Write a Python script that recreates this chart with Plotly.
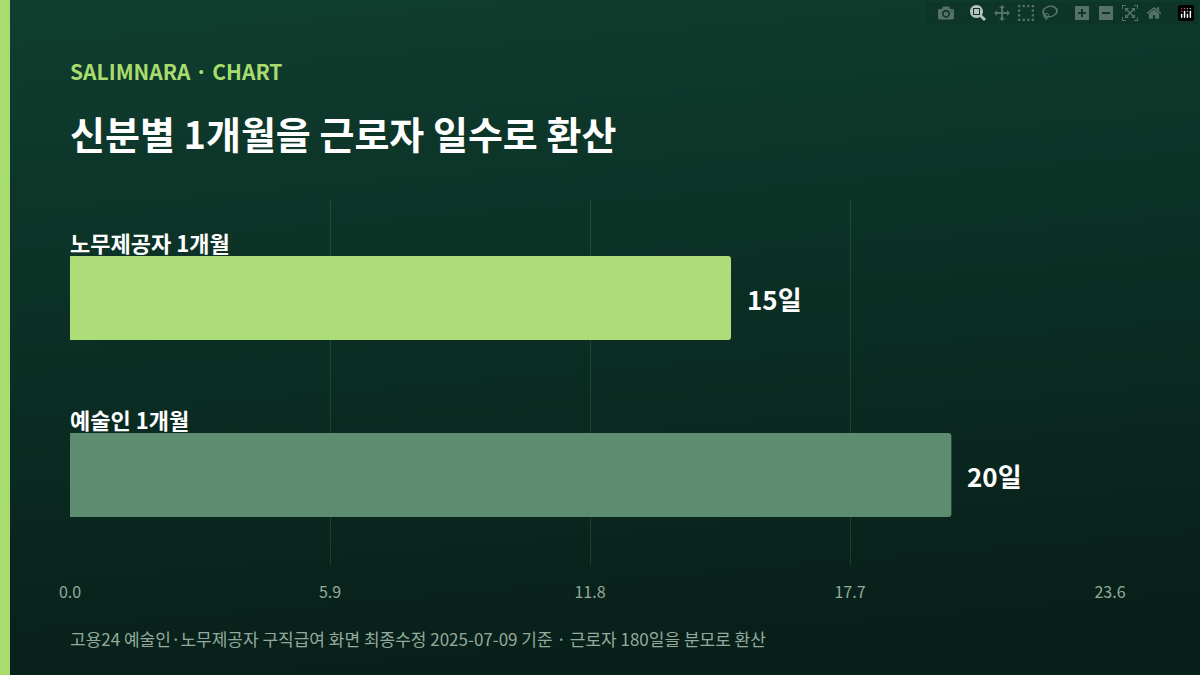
import base64
import plotly.graph_objects as go

categories = ["노무제공자 1개월", "예술인 1개월"]
days = [15, 20]
value_labels = ["15일", "20일"]
tick_vals = [0.0, 5.9, 11.8, 17.7, 23.6]
bar_colors = ["#addc78", "#5e8c70"]

FONT = "Noto Sans CJK KR"


def px(x):
    return (x - 70) / 1040


def py(y):
    return (565 - y) / 365


svg = """<svg xmlns='http://www.w3.org/2000/svg' width='1200' height='675'>
<defs><linearGradient id='g' x1='0' y1='0' x2='0.15' y2='1'>
<stop offset='0' stop-color='#0f3e2f'/><stop offset='1' stop-color='#08201a'/>
</linearGradient></defs><rect width='1200' height='675' fill='url(#g)'/></svg>"""
bg_uri = "data:image/svg+xml;base64," + base64.b64encode(svg.encode()).decode()

ypos = list(range(len(categories)))
fig = go.Figure(go.Bar(
    x=days, y=ypos, orientation="h", width=0.475,
    marker=dict(color=bar_colors, line=dict(width=0), cornerradius=3),
    hoverinfo="skip",
))

for i, (cat, d, lab) in enumerate(zip(categories, days, value_labels)):
    fig.add_annotation(x=0, y=i - 0.2375, xref="x", yref="y", text=f"<b>{cat}</b>",
                       showarrow=False, xanchor="left", yanchor="bottom", yshift=-4, xshift=-2,
                       font=dict(family=FONT, size=22, color="#ffffff"))
    fig.add_annotation(x=d, y=i, xref="x", yref="y", text=f"<b>{lab}</b>",
                       showarrow=False, xanchor="left", yanchor="middle", xshift=14,
                       font=dict(family=FONT, size=26, color="#ffffff"))

fig.add_annotation(x=px(70), y=py(71), xref="paper", yref="paper",
                   text="<b>SALIMNARA · CHART</b>", showarrow=False, xanchor="left", yanchor="middle", xshift=-2,
                   font=dict(family=FONT, size=21, color="#a8dc6e"))
fig.add_annotation(x=px(70), y=py(132), xref="paper", yref="paper",
                   text="<b>신분별 1개월을 근로자 일수로 환산</b>", showarrow=False, xanchor="left", yanchor="middle", xshift=-2,
                   font=dict(family=FONT, size=38, color="#ffffff"))
fig.add_annotation(x=px(70), y=py(638), xref="paper", yref="paper",
                   text="고용24 예술인·노무제공자 구직급여 화면 최종수정 2025-07-09 기준 · 근로자 180일을 분모로 환산",
                   showarrow=False, xanchor="left", yanchor="middle", xshift=-2,
                   font=dict(family=FONT, size=17, color="#93aa9c"))

fig.update_layout(
    width=1200, height=675,
    margin=dict(l=70, r=90, t=200, b=110, autoexpand=False),
    paper_bgcolor="#0c2f23", plot_bgcolor="rgba(0,0,0,0)",
    images=[dict(source=bg_uri, xref="paper", yref="paper", x=px(0), y=py(0),
                 sizex=1200 / 1040, sizey=675 / 365, xanchor="left", yanchor="top",
                 sizing="stretch", layer="below")],
    shapes=[dict(type="rect", xref="paper", yref="paper", x0=px(0), x1=px(10),
                 y0=py(675), y1=py(0), fillcolor="#a8dc6e", line=dict(width=0))],
    xaxis=dict(range=[0, 23.6], tickvals=tick_vals, ticktext=[f"{v:.1f}" for v in tick_vals],
               showgrid=True, gridcolor="rgba(90,170,120,0.22)", gridwidth=1, zeroline=False,
               showline=False, ticks="", ticklabelstandoff=16,
               tickfont=dict(family=FONT, size=16, color="#93aa9c")),
    yaxis=dict(range=[1.508, -0.554], showticklabels=False, showgrid=False, zeroline=False, showline=False),
    showlegend=False,
    font=dict(family=FONT),
)

fig.write_html("out.html", post_script="document.body.style.margin='0';document.body.style.background='#08201a';")
